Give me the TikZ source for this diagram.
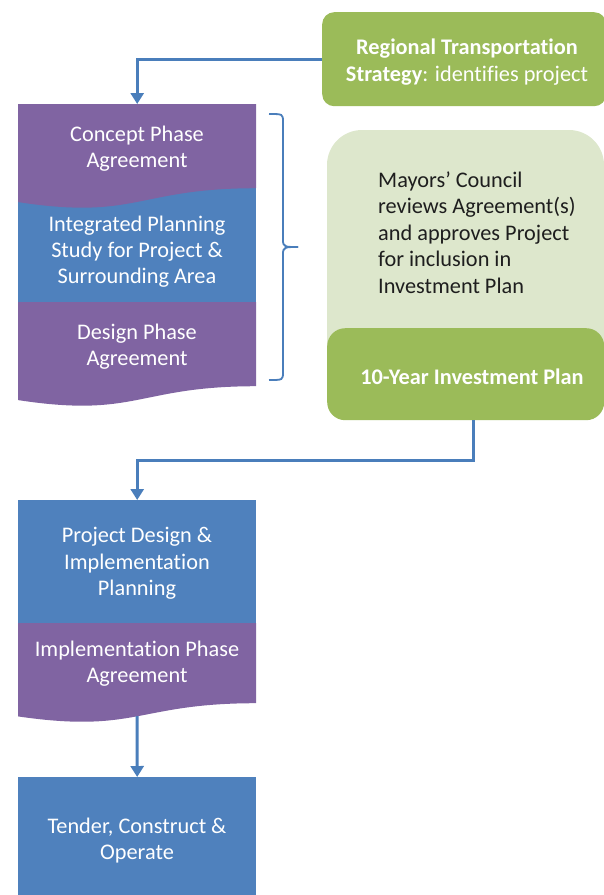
\documentclass[tikz,border=0pt]{standalone}
\usepackage{fontspec}
\setmainfont{Carlito}[Ligatures=NoCommon]
\usetikzlibrary{arrows.meta,calc}
\definecolor{cgreen}{HTML}{9BBB59}
\definecolor{clight}{HTML}{DDE7CC}
\definecolor{cpurple}{HTML}{8064A2}
\definecolor{cblue}{HTML}{4F81BD}
\definecolor{carrow}{HTML}{4A7EBB}
\definecolor{ctext}{HTML}{1E1E1E}
\newcommand{\mydocshape}[5]{%
  \fill[#5] (#1,#2) -- ({#1+#3},#2) -- ({#1+#3},{#2+0.802*#4})
    .. controls ({#1+0.5*#3},{#2+0.802*#4}) and ({#1+0.5*#3},{#2+1.1075*#4}) .. (#1,{#2+0.934*#4}) -- cycle;}
\begin{document}
\begin{tikzpicture}[x=1pt,y=-1pt,
  lbl/.style={font=\fontsize{22.3}{26.3}\selectfont, text=white, align=center, inner sep=0pt},
  boxnode/.style={draw=none, minimum width=238pt, inner sep=0pt, anchor=north west},
  arr/.style={draw=carrow, line width=3pt, -{Triangle[width=13pt,length=11pt]}},
  brace/.style={draw=carrow, line width=1.8pt}]
\useasboundingbox (0,0) rectangle (604,895);
% top green box
\node[fill=cgreen, rounded corners=12pt, minimum width=284pt, minimum height=94pt, anchor=north west, inner sep=0pt] (rtsbox) at (322,12) {};
\node[lbl] (rts) at (467,62) {\textbf{Regional Transportation}\\\textbf{Strategy}: identifies project};
% left stack
\fill[cblue] (18,185) rectangle (256,302);
\mydocshape{18}{104}{238}{105}{cpurple}
\mydocshape{18}{302}{238}{105}{cpurple}
\node[boxnode, minimum height=84pt] (concept) at (18,104) {};
\node[lbl] (concepttxt) at (137,148.5) {Concept Phase\\Agreement};
\node[lbl] (ips) at (137,251.5) {Integrated Planning\\Study for Project \&\\Surrounding Area};
\node[lbl] (design) at (137,346.5) {Design Phase\\Agreement};
% brace
\draw[brace] (269,114) .. controls (283,114) and (283,114) .. (283,122) -- (283,240)
  .. controls (283,247) and (285,247) .. (298,247);
\draw[brace] (269,380) .. controls (283,380) and (283,380) .. (283,372) -- (283,254)
  .. controls (283,247) and (285,247) .. (298,247);
% right green boxes
\fill[clight, rounded corners=35pt] (327,130) rectangle (604,400);
\node[font=\fontsize{22.3}{26.5}\selectfont, text=ctext, align=left, anchor=west, inner sep=0pt] (mayors) at (378,232.5)
  {Mayors’ Council\\reviews Agreement(s)\\and approves Project\\for inclusion in\\Investment Plan};
\node[fill=cgreen, rounded corners=18pt, minimum width=277pt, minimum height=92pt, anchor=north west, inner sep=0pt] (investbox) at (327,328) {};
\node[lbl, font=\fontsize{22.3}{26}\selectfont\bfseries] (invest) at (472,376.5) {10-Year Investment Plan};
% lower stack
\node[boxnode, fill=cblue, minimum height=123pt] (pd) at (18,500) {};
\node[lbl] (pdtxt) at (137,563.5) {Project Design \&\\Implementation\\Planning};
\mydocshape{18}{623}{238}{100}{cpurple}
\node[boxnode, minimum height=80pt] (impl) at (18,623) {};
\node[lbl] (impltxt) at (137,663.5) {Implementation Phase\\Agreement};
\coordinate (implbottom) at (137,716);
\node[boxnode, fill=cblue, minimum height=123pt] (tender) at (18,777) {};
\node[lbl] (tendertxt) at (137,840.5) {Tender, Construct \&\\Operate};
% connectors
\draw[arr] (rtsbox.west) -| (concept.north);
\coordinate (investout) at (473,420);
\draw[arr] (investout) -- (473,460) -| (pd.north);
\draw[arr] (implbottom) -- (tender.north);
\end{tikzpicture}
\end{document}
